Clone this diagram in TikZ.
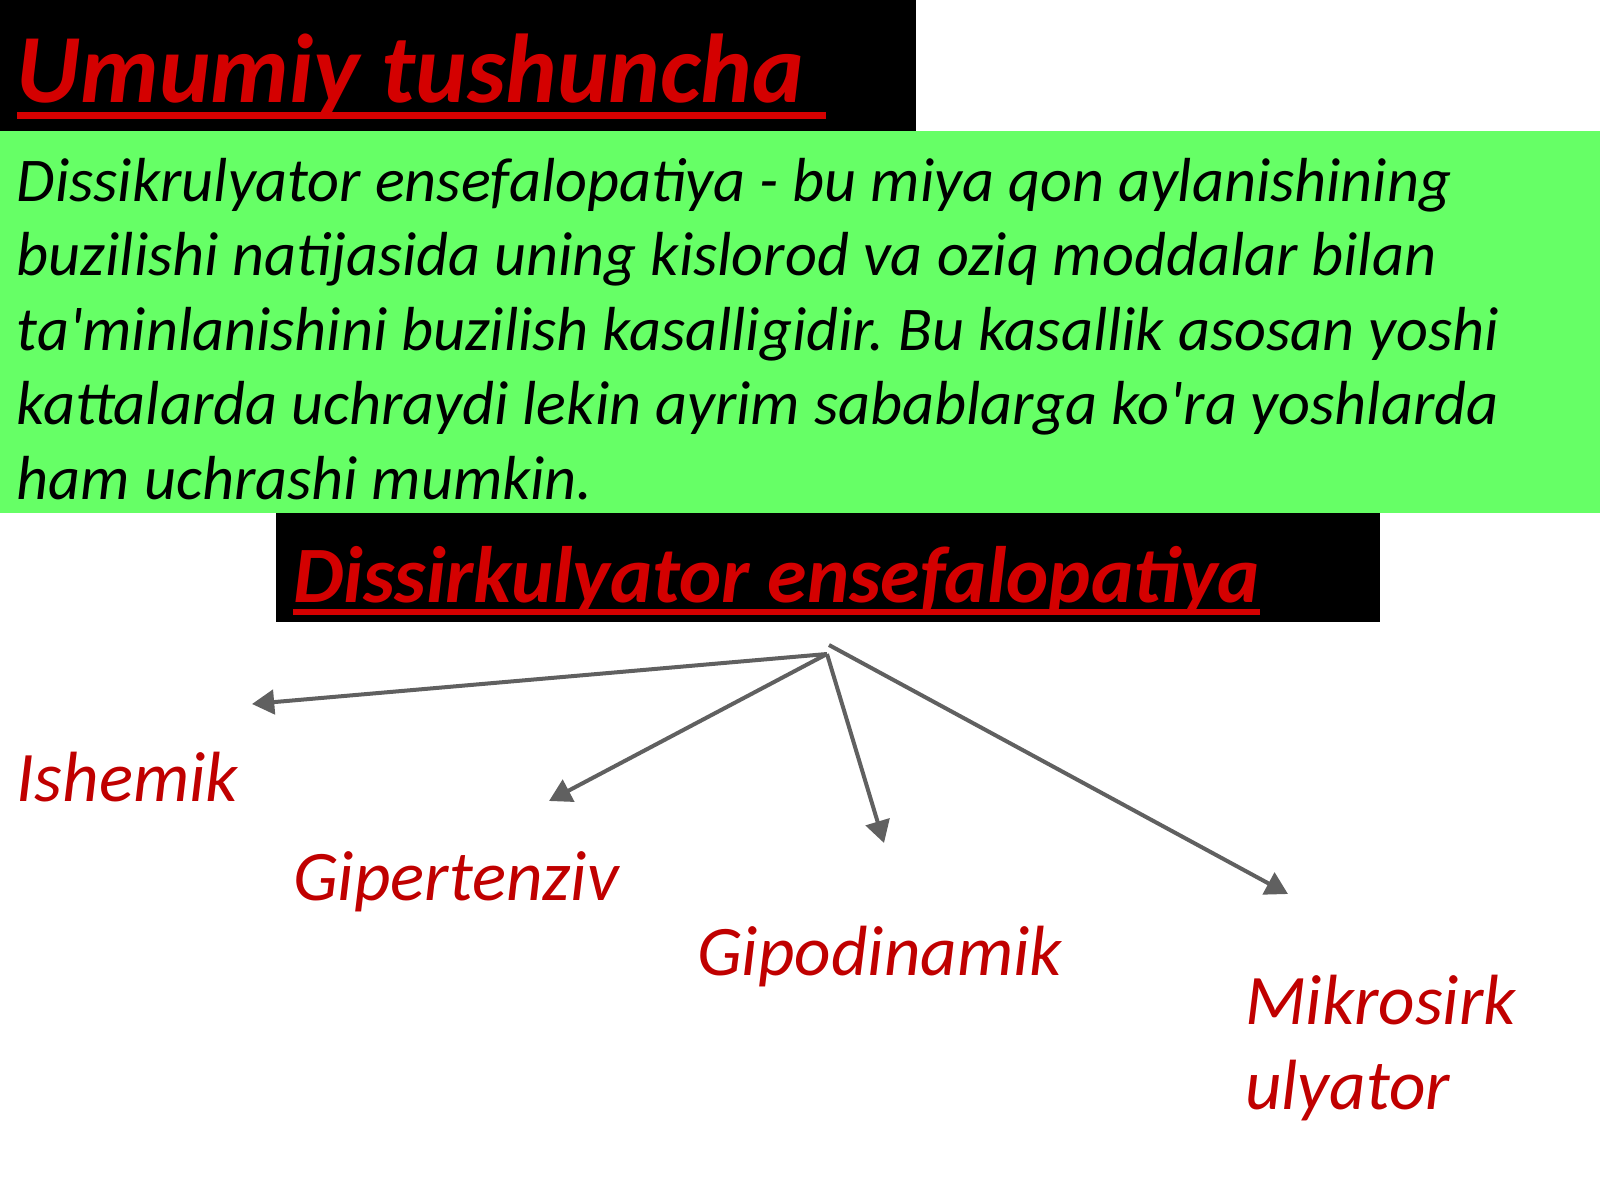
\documentclass[tikz,border=0pt]{standalone}
\usepackage{fontspec}
\setmainfont{Carlito}[Ligatures=TeXOff]
\usetikzlibrary{arrows.meta}
\definecolor{slidegreen}{HTML}{66FF66}
\definecolor{headred}{HTML}{D40000}
\definecolor{labelred}{HTML}{C00000}
\definecolor{arrowgray}{HTML}{606060}
\def\topbox{(0,0) rectangle (916,131)}
\def\greenband{(0,131) rectangle (1600,513)}
\def\subbox{(276,513) rectangle (1380,622)}
\frenchspacing
\tikzset{
  slidetext/.style={anchor=base west, inner sep=0pt, outer sep=0pt},
  headline/.style={slidetext, text=headred},
  bodyline/.style={slidetext, font=\itshape\fontsize{28}{33.6}\selectfont},
  typelabel/.style={slidetext, text=labelred, font=\itshape\fontsize{32}{38.4}\selectfont},
  branch/.style={draw=arrowgray, line width=1.8pt, -{Triangle[length=10pt,width=11pt]}}
}

\begin{document}
\begin{tikzpicture}[x=0.45pt,y=-0.45pt]
  \useasboundingbox (0,0) rectangle (1600,1200);
  \fill[black] \topbox;
  \fill[slidegreen] \greenband;
  \fill[black] \subbox;
  % headings
  \node[headline, font=\bfseries\itshape\fontsize{44}{52}\selectfont] (title) at (17,102) {Umumiy tushuncha\ \null};
  \fill[headred] ([yshift=-4.5pt]title.base west) rectangle ([yshift=-7.6pt]title.base east);
  \node[headline, font=\bfseries\itshape\fontsize{36}{43}\selectfont] (subtitle) at (293,602) {Dissirkulyator ensefalopatiya};
  \fill[headred] ([yshift=-3.2pt]subtitle.base west) rectangle ([yshift=-6pt]subtitle.base east);
  % definition
  \foreach \txt [count=\i] in {{Dissikrulyator ensefalopatiya - bu miya qon aylanishining},
      {buzilishi natijasida uning kislorod va oziq moddalar bilan},
      {ta'minlanishini buzilish kasalligidir. Bu kasallik asosan yoshi},
      {kattalarda uchraydi lekin ayrim sabablarga ko'ra yoshlarda},
      {ham uchrashi mumkin.}}
    \node[bodyline] (line\i) at (17,{201+74.5*(\i-1)}) {\txt};
  % types
  \node[typelabel] (ishemik) at (17,801) {Ishemik};
  \node[typelabel] (giper) at (293,900) {Gipertenziv};
  \node[typelabel] (gipod) at (697,975) {Gipodinamik};
  \node[typelabel] (mikroA) at (1245,1024) {Mikrosirk};
  \node[typelabel] (mikroB) at (1245,1109) {ulyator};
  \coordinate (hub) at (827,654);
  \coordinate (hubtop) at (829,645);
  \coordinate (ishTip) at (252,704);
  \coordinate (giperTip) at (549,801);
  \coordinate (gipodTip) at (884,843);
  \coordinate (mikroTip) at (1288,894);
  \draw[branch] (hub) -- (ishTip);
  \draw[branch] (hub) -- (giperTip);
  \draw[branch] (hub) -- (gipodTip);
  \draw[branch] (hubtop) -- (mikroTip);
\end{tikzpicture}
\end{document}
